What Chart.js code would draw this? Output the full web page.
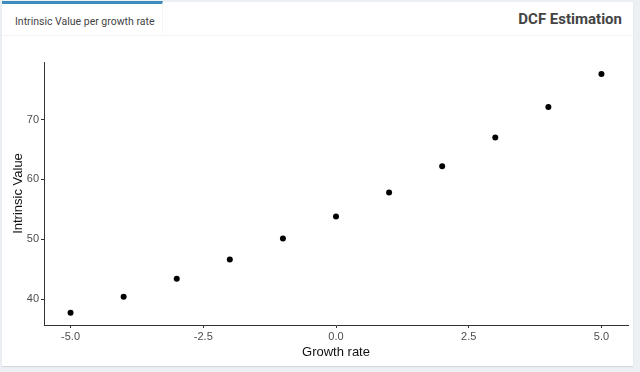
<!DOCTYPE html>
<html lang="en">
<head>
    <meta charset="UTF-8">
    <script src="https://cdn.jsdelivr.net/npm/chart.js"></script>
    <style>
        body {
            margin: 0;
            padding: 0;
            background-color: #ecf0f5;
            font-family: "Source Sans Pro", Roboto, sans-serif;
        }

        .box {
            position: absolute;
            left: 2px;
            top: 2px;
            width: 631px;
            height: 364px;
            background: #fff;
            box-shadow: 0 1px 1px rgba(0, 0, 0, 0.1);
        }

        .tabs {
            position: absolute;
            left: 0;
            top: 0;
            width: 631px;
            height: 33px;
            border-bottom: 1px solid #f4f4f4;
        }

        .tab-active {
            position: absolute;
            left: 0;
            top: -1px;
            width: 161px;
            height: 32px;
            border-top: 3px solid #3c8dbc;
            border-right: 1px solid #f4f4f4;
            background: #fff;
            color: #444;
            font-size: 10.5px;
            line-height: 36px;
            padding-left: 13px;
            box-sizing: border-box;
        }

        .header {
            position: absolute;
            right: 11px;
            top: 1px;
            line-height: 33px;
            font-size: 15px;
            font-weight: bold;
            color: #444;
        }

        #chartWrap {
            position: absolute;
            left: 0;
            top: 34px;
            width: 631px;
            height: 329px;
        }
    </style>
    <title>DCF Estimation</title>
</head>
<body>
    <div class="box">
        <div class="tabs">
            <div class="tab-active">Intrinsic Value per growth rate</div>
            <div class="header">DCF Estimation</div>
        </div>
        <div id="chartWrap"><canvas id="dcfChart"></canvas></div>
    </div>
    <script>
        const growthRates = [-5, -4, -3, -2, -1, 0, 1, 2, 3, 4, 5];
        const intrinsicValues = [37.7, 40.4, 43.4, 46.6, 50.1, 53.8, 57.8, 62.2, 67.0, 72.1, 77.6];
        const xTicks = [-5, -2.5, 0, 2.5, 5];
        const yTicks = [40, 50, 60, 70];

        const axisFont = { family: "'Liberation Sans', Arial, sans-serif", size: 11 };
        const titleFont = { family: "'Liberation Sans', Arial, sans-serif", size: 13 };

        new Chart(document.getElementById("dcfChart"), {
            type: "scatter",
            data: {
                datasets: [{
                    data: growthRates.map((g, i) => ({ x: g, y: intrinsicValues[i] })),
                    backgroundColor: "#000",
                    borderWidth: 0,
                    pointRadius: 3,
                    pointHoverRadius: 3
                }]
            },
            options: {
                responsive: true,
                maintainAspectRatio: false,
                animation: false,
                layout: { padding: { top: 26, right: 5, left: 0, bottom: 0 } },
                plugins: {
                    legend: { display: false },
                    tooltip: { enabled: false }
                },
                scales: {
                    x: {
                        type: "linear",
                        min: -5.5,
                        max: 5.5,
                        afterBuildTicks: scale => { scale.ticks = xTicks.map(v => ({ value: v })); },
                        afterFit: scale => { scale.height = 40; },
                        grid: { display: true, drawOnChartArea: false, drawTicks: true, tickLength: 3, color: "#333" },
                        border: { display: true, color: "#333", width: 1 },
                        ticks: {
                            padding: 2,
                            color: "#4d4d4d",
                            font: axisFont,
                            maxRotation: 0,
                            callback: v => v.toFixed(1)
                        },
                        title: { display: true, text: "Growth rate", color: "#111", font: titleFont, padding: { top: 0, bottom: 5 } }
                    },
                    y: {
                        min: 35.67,
                        max: 79.6,
                        afterBuildTicks: scale => { scale.ticks = yTicks.map(v => ({ value: v })); },
                        afterFit: scale => { scale.width = 42; },
                        grid: { display: true, drawOnChartArea: false, drawTicks: true, tickLength: 3, color: "#333" },
                        border: { display: true, color: "#333", width: 1 },
                        ticks: {
                            padding: 2,
                            color: "#4d4d4d",
                            font: axisFont,
                            callback: v => v.toString()
                        },
                        title: { display: true, text: "Intrinsic Value", color: "#111", font: titleFont, padding: { top: 9, bottom: 0 } }
                    }
                }
            }
        });
    </script>
</body>
</html>
